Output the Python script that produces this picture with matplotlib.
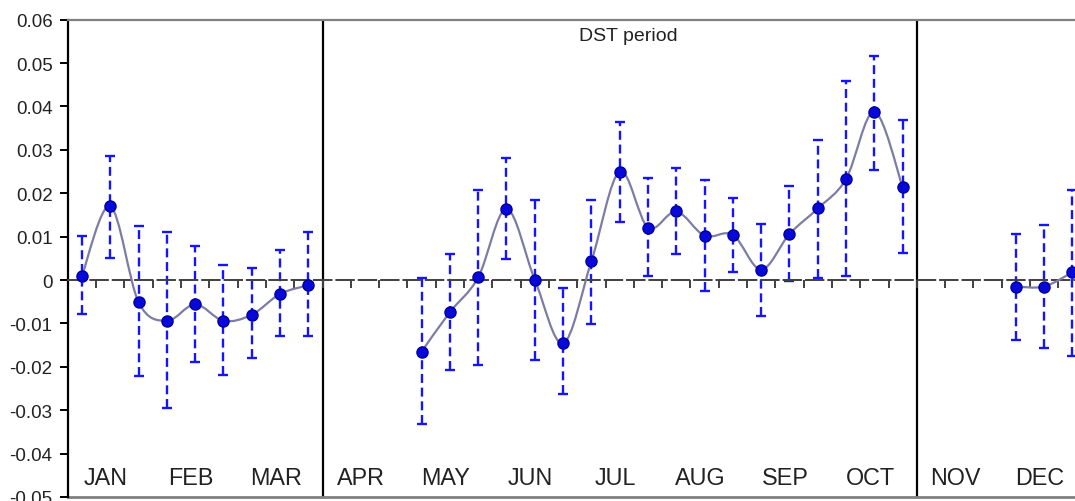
import numpy as np
import matplotlib
matplotlib.use('Agg')
import matplotlib.pyplot as plt
from matplotlib.path import Path
from matplotlib.patches import PathPatch
from matplotlib.ticker import FuncFormatter

plt.rcParams['font.family'] = 'Liberation Sans'

MONTHS = ['JAN', 'FEB', 'MAR', 'APR', 'MAY', 'JUN',
          'JUL', 'AUG', 'SEP', 'OCT', 'NOV', 'DEC']

nan = np.nan
# one value per ten-day period (3 per month), nan = no data
MEAN = [0.0010, 0.0170, -0.0051, -0.0094, -0.0056, -0.0094, -0.0080, -0.0032, -0.0012,
        nan, nan, nan,
        -0.0165, -0.0074, 0.0006, 0.0164, 0.0001, -0.0146, 0.0043, 0.0250, 0.0121,
        0.0158, 0.0102, 0.0104, 0.0024, 0.0106, 0.0165, 0.0233, 0.0388, 0.0214,
        nan, nan, nan,
        -0.0015, -0.0015, 0.0018]
UPPER = [0.0102, 0.0286, 0.0124, 0.0110, 0.0078, 0.0035, 0.0028, 0.0070, 0.0110,
         nan, nan, nan,
         0.0004, 0.0060, 0.0207, 0.0281, 0.0184, -0.0018, 0.0184, 0.0365, 0.0234,
         0.0258, 0.0230, 0.0189, 0.0129, 0.0216, 0.0323, 0.0458, 0.0517, 0.0369,
         nan, nan, nan,
         0.0106, 0.0127, 0.0208]
LOWER = [-0.0078, 0.0051, -0.0222, -0.0296, -0.0190, -0.0218, -0.0180, -0.0130, -0.0130,
         nan, nan, nan,
         -0.0332, -0.0207, -0.0195, 0.0048, -0.0184, -0.0263, -0.0101, 0.0134, 0.0010,
         0.0060, -0.0026, 0.0019, -0.0082, -0.0003, 0.0004, 0.0010, 0.0254, 0.0062,
         nan, nan, nan,
         -0.0138, -0.0157, -0.0176]
DST_START, DST_END = 9, 30  # period boundaries of the DST block


def smooth_path(xs, ys):
    # Excel-style smoothed line: cubic bezier through every point
    pts = np.column_stack([xs, ys])
    n = len(pts)
    verts = [pts[0]]
    codes = [Path.MOVETO]
    for i in range(n - 1):
        p0 = pts[max(i - 1, 0)]
        p1 = pts[i]
        p2 = pts[i + 1]
        p3 = pts[min(i + 2, n - 1)]
        c1 = p1 + (p2 - p0) / 6.0
        c2 = p2 - (p3 - p1) / 6.0
        verts += [c1, c2, p2]
        codes += [Path.CURVE4] * 3
    return Path(verts, codes)


mean = np.array(MEAN)
upper = np.array(UPPER)
lower = np.array(LOWER)
x = np.arange(len(mean)) + 0.5

fig = plt.figure(figsize=(10.75, 5.02), dpi=100)
ax = fig.add_axes([0.0631, 0.008, 0.9477, 0.9508])
ax.set_xlim(0, len(mean))
ax.set_ylim(-0.05, 0.06)

# smoothed line per contiguous block
valid = ~np.isnan(mean)
start = None
for i in range(len(mean) + 1):
    ok = i < len(mean) and valid[i]
    if ok and start is None:
        start = i
    elif not ok and start is not None:
        path = smooth_path(x[start:i], mean[start:i])
        ax.add_patch(PathPatch(path, facecolor='none', edgecolor='#7c7ca6', lw=1.6, zorder=3))
        start = None

eb = ax.errorbar(x[valid], mean[valid],
                 yerr=[mean[valid] - lower[valid], upper[valid] - mean[valid]],
                 fmt='none', ecolor='#1414ff', elinewidth=1.7, capsize=3.8, capthick=1.7, zorder=2)
eb[2][0].set_linestyle((0, (3.8, 2.0)))

ax.plot(x[valid], mean[valid], 'o', color='#0808d8', markeredgecolor='#0000a0',
        markersize=8, zorder=4)

# dividers of the DST period
ax.axvline(DST_START, color='black', lw=1.6, zorder=1)
ax.axvline(DST_END, color='black', lw=1.6, zorder=1)
ax.text((DST_START + DST_END) / 2.0 + 0.3, 0.0563, 'DST period', ha='center', va='center',
        fontsize=14, color='#222222')

# zero axis with category ticks
ax.spines['bottom'].set_position(('data', 0))
ax.spines['bottom'].set_linestyle((0, (9, 2.5)))
ax.spines['bottom'].set_color('#404040')
ax.spines['bottom'].set_linewidth(1.4)
ax.set_xticks(np.arange(0, len(mean) + 1))
ax.tick_params(axis='x', direction='out', length=6, width=1.4, color='#404040',
               labelbottom=False)
ax.axhline(-0.05, color='#808080', lw=2, clip_on=False)

for m, name in enumerate(MONTHS):
    ax.text(3 * m + 1.5 - 0.15, -0.0454, name, ha='center', va='center',
            fontsize=16.8, color='#222222')

ax.spines['left'].set_linewidth(1.6)
ax.spines['left'].set_color('black')
ax.spines['top'].set_color('#808080')
ax.spines['top'].set_linewidth(1.6)
ax.spines['right'].set_visible(False)

ax.set_yticks(np.round(np.arange(-0.05, 0.0601, 0.01), 2))
ax.yaxis.set_major_formatter(FuncFormatter(lambda v, p: '0' if abs(v) < 1e-9 else '%.2f' % v))
ax.tick_params(axis='y', direction='out', length=6, width=1.4, labelsize=13.5,
               labelcolor='#222222', pad=5)

fig.savefig('out.png', dpi=100)
